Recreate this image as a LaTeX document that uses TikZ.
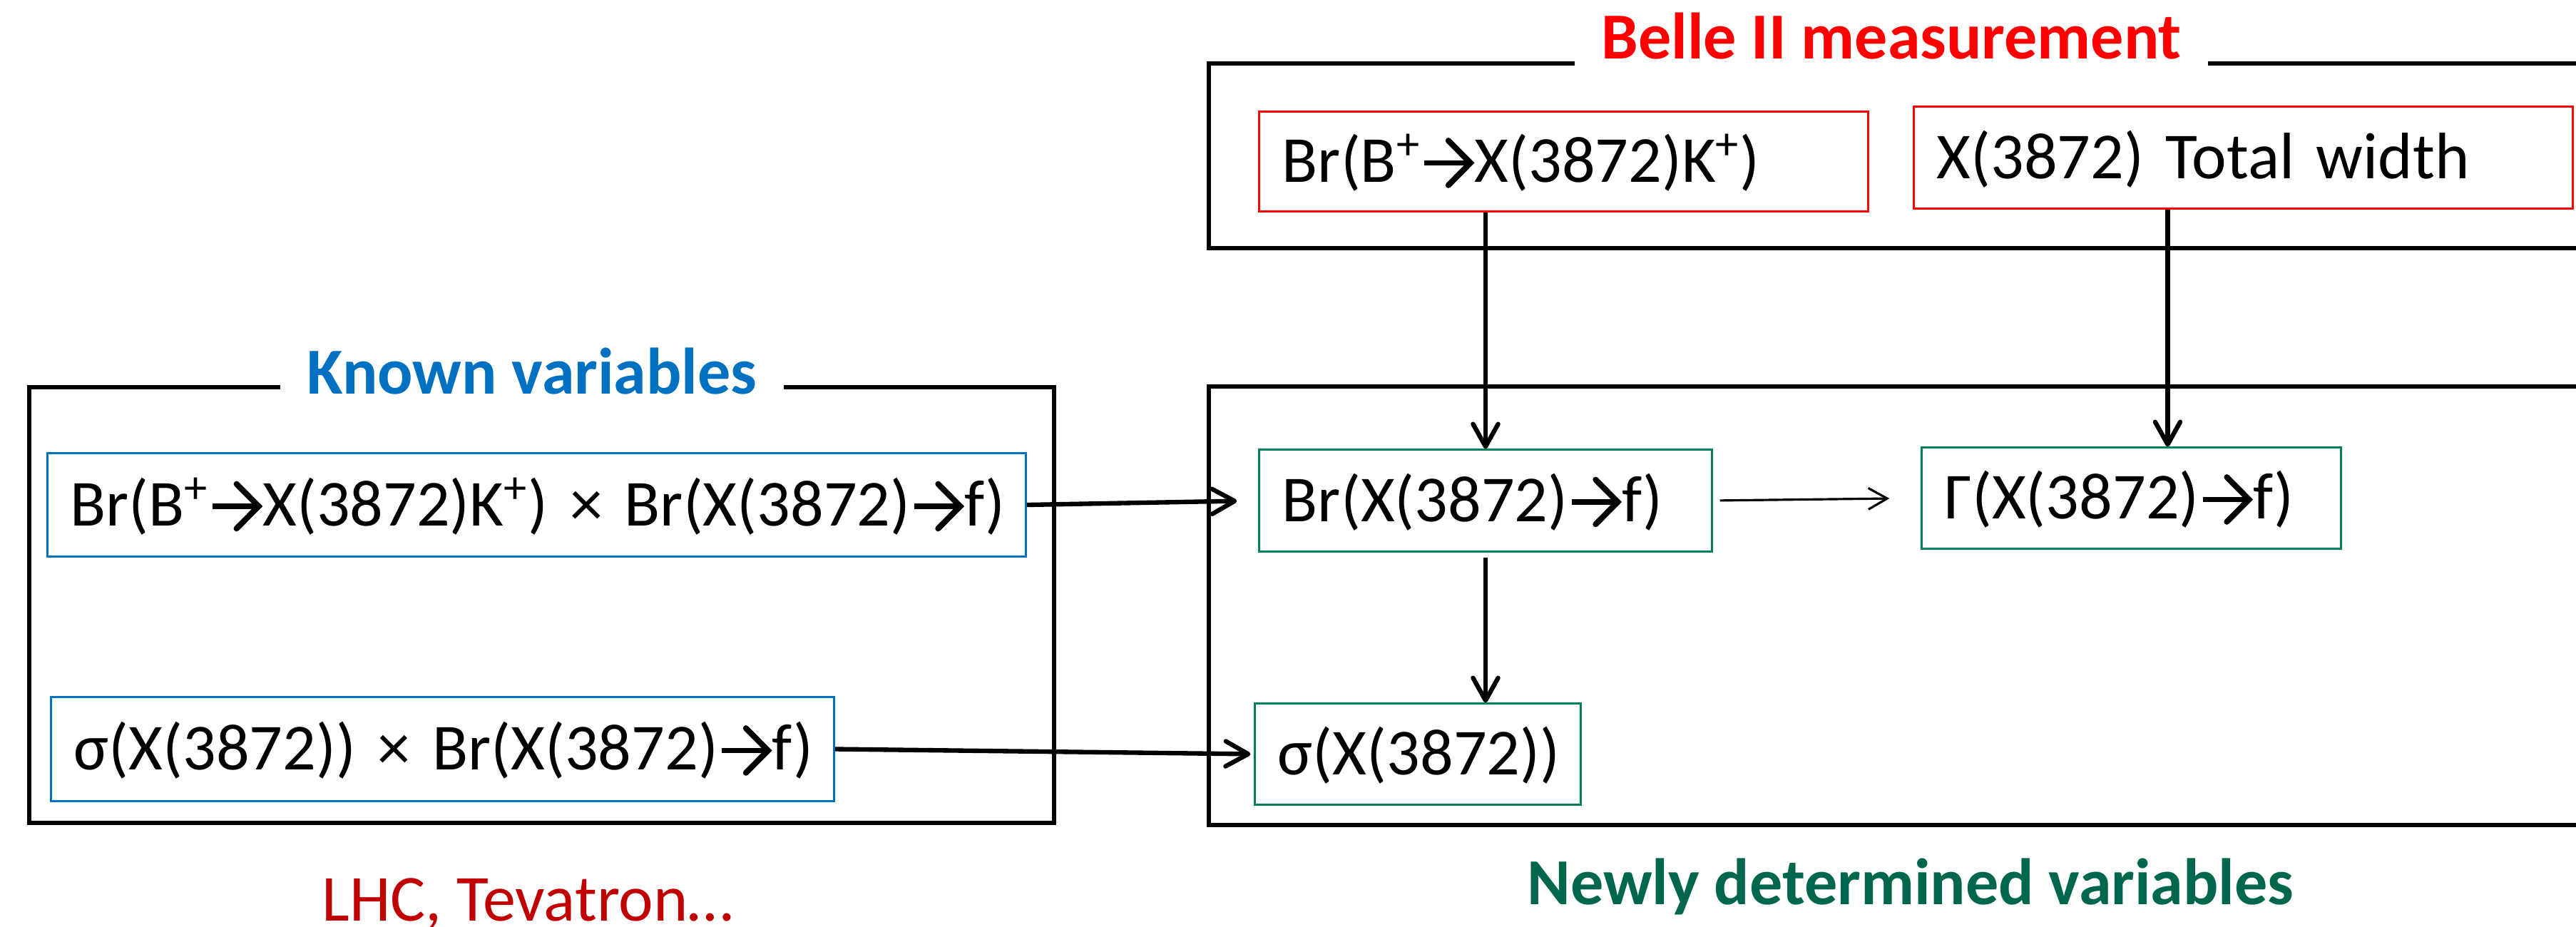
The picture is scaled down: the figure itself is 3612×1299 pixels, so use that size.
\documentclass[tikz,border=0pt]{standalone}
\usepackage{fontspec}
\setmainfont{Carlito}
\usetikzlibrary{arrows.meta}
\definecolor{bred}{RGB}{255,0,0}
\definecolor{kblue}{RGB}{0,112,192}
\definecolor{gbox}{RGB}{0,128,90}
\definecolor{gtxt}{RGB}{0,102,76}
\definecolor{lhcred}{RGB}{192,0,0}
\newcommand\fsz{\fontsize{26.2}{31}\selectfont}
\newcommand\rarr{\kern0.5pt\tikz[baseline=0pt,x=1pt,y=1pt]{%
  \draw[line width=2.1pt] (0,7.7)--(17,7.7);
  \draw[line width=2.3pt,line cap=round,line join=miter] (9.5,16.6)--(18.3,7.7)--(9.5,-1.2);}\kern0.5pt}
\tikzset{
  every node/.style={font=\fsz},
  frame/.style={line width=1.85pt},
  vbox/.style={draw, line width=0.85pt, inner xsep=0.32cm, inner ysep=0pt,
    align=left, text height=0.58cm, text depth=0cm},
  rbox/.style={vbox, draw=bred},
  bbox/.style={vbox, draw=kblue},
  gbx/.style={vbox, draw=gbox},
  ttl/.style={font=\fsz\bfseries, anchor=base, inner xsep=0.37cm},
  thk/.style={line width=1.8pt, -{Straight Barb[length=9pt,width=10pt,round]}},
  thn/.style={line width=0.9pt, -{Straight Barb[length=7.5pt,width=8.5pt]}}
}
\begin{document}
\begin{tikzpicture}[x=0.01cm,y=-0.01cm]
\useasboundingbox (0,0) rectangle (3612,1299);
\clip (0,0) rectangle (3612,1299);
% titles
\node[ttl, text=kblue] (KT) at (746,552) {Known variables};
\node[ttl, text=bred] (BT) at (2652,82) {Belle II measurement};
\node[ttl, text=gtxt] (NT) at (2679,1268) {Newly determined variables};
\node[anchor=base, text=lhcred] (LT) at (740,1291) {LHC, Tevatron…};
% frames
\coordinate (K1) at (41,543); \coordinate (K2) at (1478,1154);
\draw[frame] (KT.west |- K1) -- (K1) -- (K1 |- K2) -- (K2) -- (K2 |- K1) -- (KT.east |- K1);
\coordinate (E1) at (1695,89); \coordinate (E2) at (3700,348);
\draw[frame] (BT.east |- E1) -- (E2 |- E1) -- (E2) -- (E1 |- E2) -- (E1) -- (BT.west |- E1);
\coordinate (N1) at (1695,542); \coordinate (N2) at (3700,1157);
\draw[frame] (N1) rectangle (N2);
% boxes
\node[rbox, text width=7.89cm, minimum height=1.39cm] (R1) at (2192.5,226.5)
  {\mbox{Br(B\textsuperscript{+}\rarr X(3872)K\textsuperscript{+})}};
\node[rbox, text width=8.59cm, minimum height=1.42cm] (R2) at (3145.5,221)
  {\mbox{X(3872) Total width}};
\node[bbox, text width=13.07cm, minimum height=1.44cm] (B1) at (752.5,708)
  {\mbox{Br(B\textsuperscript{+}\rarr X(3872)K\textsuperscript{+}) × Br(X(3872)\rarr f)}};
\node[bbox, text width=10.33cm, minimum height=1.45cm] (B2) at (620.5,1050.5)
  {\mbox{σ(X(3872)) × Br(X(3872)\rarr f)}};
\node[gbx, text width=5.70cm, minimum height=1.42cm] (G1) at (2083,702)
  {\mbox{Br(X(3872)\rarr f)}};
\node[gbx, text width=5.23cm, minimum height=1.41cm] (G2) at (2988.5,698.5)
  {\mbox{Γ(X(3872)\rarr f)}};
\node[gbx, text width=3.92cm, minimum height=1.41cm] (G3) at (1988,1057.5)
  {\mbox{σ(X(3872))}};
% connectors
\draw[thk] (R1.south -| G1.north) -- (G1.north);
\coordinate (R2a) at ([xshift=3.57cm]R2.south west);
\draw[thk] (R2a) -- (R2a |- G2.north);
\draw[thn, shorten <=0.1cm, shorten >=0.44cm] (G1.east) -- (G2.west);
\draw[thk, shorten <=0.07cm] (G1.south) -- (G1.south |- G3.north);
\draw[thk, shorten >=0.3cm] (B1.east) -- (G1.west);
\draw[thk, shorten >=0.05cm] (B2.east) -- (G3.west);
\end{tikzpicture}
\end{document}
